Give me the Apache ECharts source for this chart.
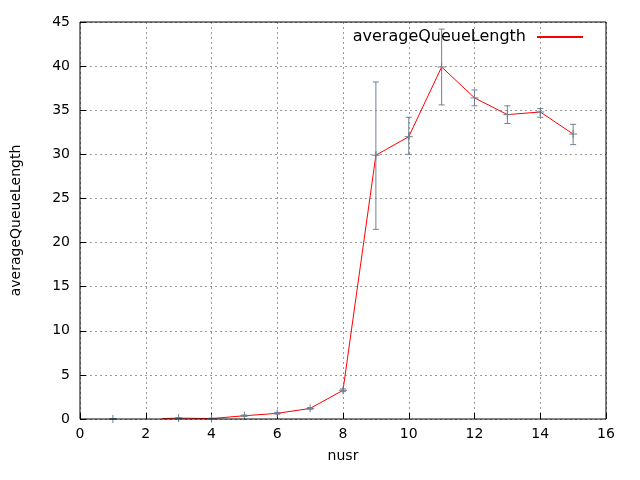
<!DOCTYPE html>
<html><head><meta charset="utf-8">
<script src="https://cdn.jsdelivr.net/npm/echarts@6/dist/echarts.min.js"></script>
<style>body{margin:0}#c{width:640px;height:480px}</style>
</head><body><div id="c"></div>
<script>
var xs = [1, 3, 4, 5, 6, 7, 8, 9, 10, 11, 12, 13, 14, 15];
var ys = [0, 0.1, 0.05, 0.37, 0.64, 1.2, 3.25, 29.9, 32.0, 39.9, 36.4, 34.5, 34.8, 32.3];
var lows = [0, 0.05, 0, 0.3, 0.55, 1.1, 3.1, 21.5, 30.0, 35.6, 35.5, 33.5, 34.2, 31.1];
var highs = [0, 0.15, 0.1, 0.45, 0.75, 1.3, 3.4, 38.2, 34.2, 44.2, 37.3, 35.5, 35.2, 33.4];
var lineXs = [2.5, 3, 4, 5, 6, 7, 8, 9, 10, 11, 12, 13, 14, 15];
var lineYs = [0.05, 0.1, 0.05, 0.37, 0.64, 1.2, 3.25, 29.9, 32.0, 39.9, 36.4, 34.5, 34.8, 32.3];

var errData = xs.map(function (x, i) { return [x, lows[i], highs[i], ys[i]]; });
var lineData = lineXs.map(function (x, i) { return [x, lineYs[i]]; });
var font = 'DejaVu Sans';
var col = '#708090';

var chart = echarts.init(document.getElementById('c'));
chart.setOption({
  animation: false,
  textStyle: { fontFamily: font },
  grid: { left: 80, right: 34, top: 22, bottom: 61 },
  legend: {
    right: 52, top: 24, itemWidth: 46, itemHeight: 2, itemGap: 10,
    icon: 'rect', align: 'right',
    textStyle: { fontFamily: font, fontSize: 16, color: '#000', padding: [0, 6, 0, 0] },
    data: ['averageQueueLength']
  },
  xAxis: {
    type: 'value', min: 0, max: 16, interval: 2, name: 'nusr',
    nameLocation: 'middle', nameGap: 30,
    nameTextStyle: { fontFamily: font, fontSize: 14, color: '#000' },
    axisLine: { show: false },
    axisTick: { inside: true, length: 6, lineStyle: { color: '#000' } },
    axisLabel: { fontFamily: font, fontSize: 14, color: '#000', margin: 8 },
    splitLine: { lineStyle: { color: '#999', type: [2, 3] } }
  },
  yAxis: {
    type: 'value', min: 0, max: 45, interval: 5, name: 'averageQueueLength',
    nameLocation: 'middle', nameGap: 57,
    nameTextStyle: { fontFamily: font, fontSize: 14, color: '#000' },
    axisLine: { show: false },
    axisTick: { inside: true, length: 6, lineStyle: { color: '#000' } },
    axisLabel: { fontFamily: font, fontSize: 14, color: '#000', margin: 10 },
    splitLine: { lineStyle: { color: '#999', type: [2, 3] } }
  },
  graphic: [{ type: 'rect', shape: { x: 80, y: 22, width: 526, height: 397 }, style: { fill: 'none', stroke: '#000', lineWidth: 1 }, z: 10, silent: true }],
  series: [
    {
      name: 'averageQueueLength', type: 'line', data: lineData, symbol: 'none',
      lineStyle: { color: '#ff0000', width: 1 }, itemStyle: { color: '#ff0000' }, z: 3
    },
    {
      type: 'custom', data: errData, z: 4,
      renderItem: function (params, api) {
        var lo = api.coord([api.value(0), api.value(1)]);
        var hi = api.coord([api.value(0), api.value(2)]);
        var c = api.coord([api.value(0), api.value(3)]);
        var w = 3;
        var st = { stroke: col, lineWidth: 1 };
        return {
          type: 'group', children: [
            { type: 'line', shape: { x1: lo[0], y1: lo[1], x2: hi[0], y2: hi[1] }, style: st },
            { type: 'line', shape: { x1: lo[0] - w, y1: lo[1], x2: lo[0] + w, y2: lo[1] }, style: st },
            { type: 'line', shape: { x1: hi[0] - w, y1: hi[1], x2: hi[0] + w, y2: hi[1] }, style: st },
            { type: 'line', shape: { x1: c[0] - 4, y1: c[1], x2: c[0] + 4, y2: c[1] }, style: st },
            { type: 'line', shape: { x1: c[0], y1: c[1] - 4, x2: c[0], y2: c[1] + 4 }, style: st }
          ]
        };
      }
    }
  ]
});
</script></body></html>
